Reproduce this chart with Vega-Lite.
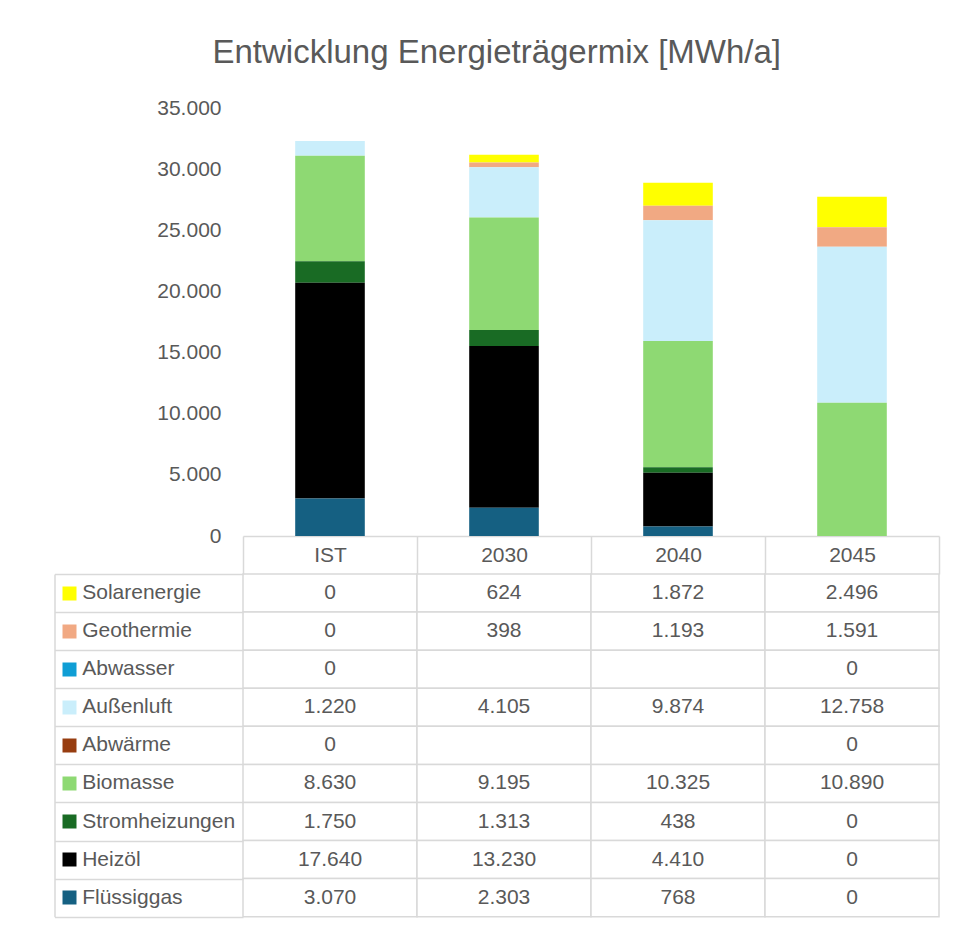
{
  "$schema": "https://vega.github.io/schema/vega-lite/v6.json",
  "background": "white",
  "padding": {"left": 53, "top": 37, "right": 12, "bottom": 5},
  "title": {"text": "Entwicklung Energieträgermix [MWh/a]", "fontSize": 33, "font": "Liberation Sans", "fontWeight": "normal", "color": "#595959", "anchor": "middle", "offset": 27},
  "config": {
    "locale": {"number": {"decimal": ",", "thousands": ".", "grouping": [3], "currency": ["", " €"]}},
    "view": {"stroke": null},
    "font": "Liberation Sans",
    "axis": {"labelFont": "Liberation Sans", "labelFontSize": 21, "labelColor": "#595959", "title": null, "grid": false}
  },
  "datasets": {
    "serien": [
      {"Serie": "Flüssiggas", "Rang": 1},
      {"Serie": "Heizöl", "Rang": 2},
      {"Serie": "Stromheizungen", "Rang": 3},
      {"Serie": "Biomasse", "Rang": 4},
      {"Serie": "Abwärme", "Rang": 5},
      {"Serie": "Außenluft", "Rang": 6},
      {"Serie": "Abwasser", "Rang": 7},
      {"Serie": "Geothermie", "Rang": 8},
      {"Serie": "Solarenergie", "Rang": 9}
    ]
  },
  "data": {"values": [
    {"Jahr": "IST", "Serie": "Solarenergie", "Wert": 0},
    {"Jahr": "IST", "Serie": "Geothermie", "Wert": 0},
    {"Jahr": "IST", "Serie": "Abwasser", "Wert": 0},
    {"Jahr": "IST", "Serie": "Außenluft", "Wert": 1220},
    {"Jahr": "IST", "Serie": "Abwärme", "Wert": 0},
    {"Jahr": "IST", "Serie": "Biomasse", "Wert": 8630},
    {"Jahr": "IST", "Serie": "Stromheizungen", "Wert": 1750},
    {"Jahr": "IST", "Serie": "Heizöl", "Wert": 17640},
    {"Jahr": "IST", "Serie": "Flüssiggas", "Wert": 3070},
    {"Jahr": "2030", "Serie": "Solarenergie", "Wert": 624},
    {"Jahr": "2030", "Serie": "Geothermie", "Wert": 398},
    {"Jahr": "2030", "Serie": "Abwasser", "Wert": null},
    {"Jahr": "2030", "Serie": "Außenluft", "Wert": 4105},
    {"Jahr": "2030", "Serie": "Abwärme", "Wert": null},
    {"Jahr": "2030", "Serie": "Biomasse", "Wert": 9195},
    {"Jahr": "2030", "Serie": "Stromheizungen", "Wert": 1313},
    {"Jahr": "2030", "Serie": "Heizöl", "Wert": 13230},
    {"Jahr": "2030", "Serie": "Flüssiggas", "Wert": 2303},
    {"Jahr": "2040", "Serie": "Solarenergie", "Wert": 1872},
    {"Jahr": "2040", "Serie": "Geothermie", "Wert": 1193},
    {"Jahr": "2040", "Serie": "Abwasser", "Wert": null},
    {"Jahr": "2040", "Serie": "Außenluft", "Wert": 9874},
    {"Jahr": "2040", "Serie": "Abwärme", "Wert": null},
    {"Jahr": "2040", "Serie": "Biomasse", "Wert": 10325},
    {"Jahr": "2040", "Serie": "Stromheizungen", "Wert": 438},
    {"Jahr": "2040", "Serie": "Heizöl", "Wert": 4410},
    {"Jahr": "2040", "Serie": "Flüssiggas", "Wert": 768},
    {"Jahr": "2045", "Serie": "Solarenergie", "Wert": 2496},
    {"Jahr": "2045", "Serie": "Geothermie", "Wert": 1591},
    {"Jahr": "2045", "Serie": "Abwasser", "Wert": 0},
    {"Jahr": "2045", "Serie": "Außenluft", "Wert": 12758},
    {"Jahr": "2045", "Serie": "Abwärme", "Wert": 0},
    {"Jahr": "2045", "Serie": "Biomasse", "Wert": 10890},
    {"Jahr": "2045", "Serie": "Stromheizungen", "Wert": 0},
    {"Jahr": "2045", "Serie": "Heizöl", "Wert": 0},
    {"Jahr": "2045", "Serie": "Flüssiggas", "Wert": 0}
  ]},
  "spacing": 38,
  "bounds": "flush",
  "resolve": {"scale": {"x": "independent", "y": "independent"}},
  "vconcat": [
    {
      "width": 696,
      "height": 428,
      "transform": [
        {"filter": "isValid(datum.Wert)"},
        {"lookup": "Serie", "from": {"data": {"name": "serien"}, "key": "Serie", "fields": ["Rang"]}}
      ],
      "mark": {"type": "bar"},
      "encoding": {
        "x": {"field": "Jahr", "type": "nominal", "sort": ["IST", "2030", "2040", "2045"],
          "scale": {"paddingInner": 0.6, "paddingOuter": 0.3},
          "axis": {"labels": false, "ticks": false, "domain": true, "domainColor": "#d9d9d9", "domainWidth": 1.5, "title": null}},
        "y": {"field": "Wert", "type": "quantitative", "stack": "zero",
          "scale": {"domain": [0, 35000], "nice": false},
          "axis": {"values": [0, 5000, 10000, 15000, 20000, 25000, 30000, 35000], "format": ",.0f", "domain": false, "ticks": false, "grid": false, "labelPadding": 22, "title": null}},
        "color": {"field": "Serie", "type": "nominal",
          "scale": {"domain": ["Solarenergie", "Geothermie", "Abwasser", "Außenluft", "Abwärme", "Biomasse", "Stromheizungen", "Heizöl", "Flüssiggas"],
                    "range": ["#FFFF00", "#F1A983", "#0F9ED5", "#CAEEFB", "#973D10", "#8ED973", "#196B24", "#000000", "#156082"]},
          "legend": null},
        "order": {"field": "Rang", "type": "quantitative", "sort": "ascending"}
      }
    },
    {
      "width": 696,
      "height": 342.7,
      "layer": [
        {
          "mark": {"type": "rect", "fill": "white", "stroke": "#d9d9d9", "strokeWidth": 1.5},
          "encoding": {
            "x": {"field": "Jahr", "type": "nominal", "sort": ["IST", "2030", "2040", "2045"],
              "scale": {"paddingInner": 0, "paddingOuter": 0},
              "axis": {"orient": "top", "domain": false, "ticks": true, "tickBand": "extent", "tickSize": 38, "tickColor": "#d9d9d9", "tickWidth": 1.5, "labelAngle": 0, "labelBaseline": "middle", "labelPadding": -19, "title": null}},
            "y": {"field": "Serie", "type": "nominal",
              "sort": ["Solarenergie", "Geothermie", "Abwasser", "Außenluft", "Abwärme", "Biomasse", "Stromheizungen", "Heizöl", "Flüssiggas"],
              "scale": {"paddingInner": 0, "paddingOuter": 0},
              "axis": {"orient": "left", "offset": 188.5, "domain": true, "domainColor": "#d9d9d9", "domainWidth": 1.5, "ticks": true, "tickBand": "extent", "tickSize": -188.5, "tickColor": "#d9d9d9", "tickWidth": 1.5, "labels": false, "title": null}}
          }
        },
        {
          "transform": [{"filter": "isValid(datum.Wert)"}],
          "mark": {"type": "text", "fontSize": 21, "color": "#595959", "font": "Liberation Sans", "align": "center", "baseline": "middle"},
          "encoding": {
            "x": {"field": "Jahr", "type": "nominal", "sort": ["IST", "2030", "2040", "2045"],
              "axis": {"orient": "top", "domain": false, "ticks": true, "tickBand": "extent", "tickSize": 38, "tickColor": "#d9d9d9", "tickWidth": 1.5, "labelAngle": 0, "labelBaseline": "middle", "labelPadding": -19, "title": null}},
            "y": {"field": "Serie", "type": "nominal",
              "sort": ["Solarenergie", "Geothermie", "Abwasser", "Außenluft", "Abwärme", "Biomasse", "Stromheizungen", "Heizöl", "Flüssiggas"],
              "axis": {"orient": "left", "offset": 167, "domain": false, "ticks": true, "tickSize": 14, "tickWidth": 14,
                "tickColor": {"condition": [
                  {"test": "datum.value === 'Solarenergie'", "value": "#FFFF00"},
                  {"test": "datum.value === 'Geothermie'", "value": "#F1A983"},
                  {"test": "datum.value === 'Abwasser'", "value": "#0F9ED5"},
                  {"test": "datum.value === 'Außenluft'", "value": "#CAEEFB"},
                  {"test": "datum.value === 'Abwärme'", "value": "#973D10"},
                  {"test": "datum.value === 'Biomasse'", "value": "#8ED973"},
                  {"test": "datum.value === 'Stromheizungen'", "value": "#196B24"},
                  {"test": "datum.value === 'Flüssiggas'", "value": "#156082"}
                ], "value": "#000000"},
                "labelAlign": "left", "labelPadding": -19.7, "labelBaseline": "middle", "labelLimit": 0, "title": null}},
            "text": {"field": "Wert", "type": "quantitative", "format": ",.0f"}
          }
        }
      ],
      "resolve": {"axis": {"y": "independent"}}
    }
  ]
}
